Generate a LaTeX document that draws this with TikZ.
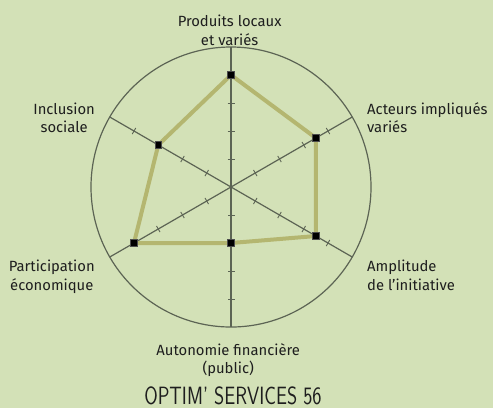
\documentclass[tikz,border=0pt]{standalone}
\usepackage{fontspec}
\setmainfont{Fira Sans}
\newfontfamily\titlefont{Latin Modern Sans}[FakeStretch=0.78]
\usepackage{xcolor}
\usepackage{tikz}
\usetikzlibrary{calc}

\definecolor{bggreen}{RGB}{211,225,183}
\definecolor{axisgray}{RGB}{92,100,84}
\definecolor{oliveline}{RGB}{180,182,112}
\definecolor{labeltext}{RGB}{30,30,30}

\begin{document}
\begin{tikzpicture}[x=28pt, y=28pt,
  label/.style={inner sep=0pt, align=center, text=labeltext,
    font=\fontsize{14.8}{18.3}\selectfont},
  marker/.style={draw=gray!60!black, fill=black, line width=0.9pt,
    minimum size=6.5pt, inner sep=0pt}]

% === Parameters ===
\pgfmathsetmacro{\rmax}{5}       % Outer circle (scale 0..5)
\pgfmathsetmacro{\ticklen}{0.125} % Half length of a tick

% === Drawing region ===
\useasboundingbox (-8.25,-7.893) rectangle (9.357,6.679);
\fill[bggreen] (-8.25,-7.893) rectangle (9.357,6.679);

% === Data points ===
\coordinate (produits) at (90:4);
\coordinate (acteurs) at (30:3.5);
\coordinate (amplitude) at (-30:3.5);
\coordinate (autonomie) at (-90:2);
\coordinate (participation) at (210:4);
\coordinate (inclusion) at (150:3);

% === Drawings ===
% Outer circle
\draw[axisgray, line width=1.2pt] (0,0) circle (\rmax);

% Axes
\draw[axisgray, line width=1.2pt] (90:\rmax) -- (-90:\rmax);
\draw[axisgray, line width=1.2pt] (30:\rmax) -- (210:\rmax);
\draw[axisgray, line width=1.2pt] (150:\rmax) -- (-30:\rmax);

% Ticks on every axis
\foreach \a in {90,30,-30,-90,210,150}
  \foreach \r in {1,...,4}
    \draw[axisgray, line width=0.9pt]
      ($(\a:\r)+(\a+90:\ticklen)$) -- ($(\a:\r)-(\a+90:\ticklen)$);

% Values
\draw[oliveline, line width=4pt, line join=round]
  (produits) -- (acteurs) -- (amplitude) -- (autonomie)
  -- (participation) -- (inclusion) -- cycle;

% Points
\foreach \p in {produits,acteurs,amplitude,autonomie,participation,inclusion}
  \node[marker] (m-\p) at (\p) {};

% Labels (base = last line)
\node[label, anchor=base] (l-produits) at (-0.05,5.07) {Produits locaux\\et variés};
\node[label, anchor=base west, align=left] (l-acteurs) at (4.857,1.94) {Acteurs impliqués\\variés};
\node[label, anchor=base west, align=left] (l-amplitude) at (4.857,-3.68) {Amplitude\\de l’initiative};
\node[label, anchor=base] (l-autonomie) at (-0.1,-6.66) {Autonomie financière\\(public)};
\node[label, anchor=base] (l-participation) at (-6.4,-3.68) {Participation\\économique};
\node[label, anchor=base] (l-inclusion) at (-5.96,1.93) {Inclusion\\sociale};

% Title
\node[inner sep=0pt, anchor=base, text=labeltext,
  font=\titlefont\fontsize{25}{25}\selectfont] (title) at (0.07,-7.76) {OPTIM’ SERVICES 56};

\end{tikzpicture}
\end{document}
